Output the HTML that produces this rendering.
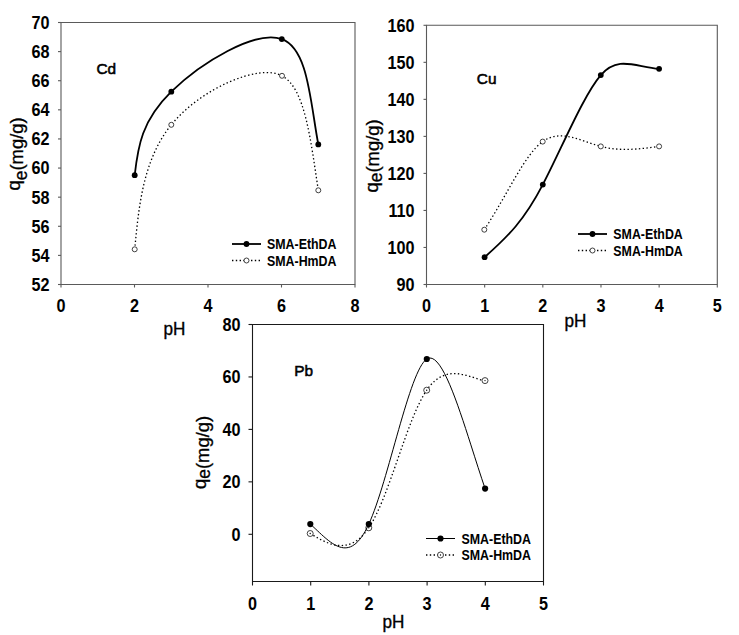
<!DOCTYPE html>
<html><head><meta charset="utf-8"><style>html,body{margin:0;padding:0;background:#fff;}svg{display:block}</style></head>
<body><svg width="739" height="635" viewBox="0 0 739 635">
<rect width="739" height="635" fill="#fff"/>
<g stroke="#5a5a5a" stroke-width="1.1" fill="none">
<path d="M61,22.5 H355 V284.5 H61 Z"/>
<path d="M58,22.50 H61"/>
<path d="M58,51.61 H61"/>
<path d="M58,80.72 H61"/>
<path d="M58,109.83 H61"/>
<path d="M58,138.94 H61"/>
<path d="M58,168.06 H61"/>
<path d="M58,197.17 H61"/>
<path d="M58,226.28 H61"/>
<path d="M58,255.39 H61"/>
<path d="M58,284.50 H61"/>
<path d="M61.00,284.5 V287.5"/>
<path d="M134.50,284.5 V287.5"/>
<path d="M208.00,284.5 V287.5"/>
<path d="M281.50,284.5 V287.5"/>
<path d="M355.00,284.5 V287.5"/>
</g>
<text transform="translate(49.5,28.90) scale(0.9,1)" font-family="Liberation Sans" font-weight="bold" font-size="18" text-anchor="end">70</text>
<text transform="translate(49.5,58.01) scale(0.9,1)" font-family="Liberation Sans" font-weight="bold" font-size="18" text-anchor="end">68</text>
<text transform="translate(49.5,87.12) scale(0.9,1)" font-family="Liberation Sans" font-weight="bold" font-size="18" text-anchor="end">66</text>
<text transform="translate(49.5,116.23) scale(0.9,1)" font-family="Liberation Sans" font-weight="bold" font-size="18" text-anchor="end">64</text>
<text transform="translate(49.5,145.34) scale(0.9,1)" font-family="Liberation Sans" font-weight="bold" font-size="18" text-anchor="end">62</text>
<text transform="translate(49.5,174.46) scale(0.9,1)" font-family="Liberation Sans" font-weight="bold" font-size="18" text-anchor="end">60</text>
<text transform="translate(49.5,203.57) scale(0.9,1)" font-family="Liberation Sans" font-weight="bold" font-size="18" text-anchor="end">58</text>
<text transform="translate(49.5,232.68) scale(0.9,1)" font-family="Liberation Sans" font-weight="bold" font-size="18" text-anchor="end">56</text>
<text transform="translate(49.5,261.79) scale(0.9,1)" font-family="Liberation Sans" font-weight="bold" font-size="18" text-anchor="end">54</text>
<text transform="translate(49.5,290.90) scale(0.9,1)" font-family="Liberation Sans" font-weight="bold" font-size="18" text-anchor="end">52</text>
<text transform="translate(61.00,312) scale(0.9,1)" font-family="Liberation Sans" font-weight="bold" font-size="18" text-anchor="middle">0</text>
<text transform="translate(134.50,312) scale(0.9,1)" font-family="Liberation Sans" font-weight="bold" font-size="18" text-anchor="middle">2</text>
<text transform="translate(208.00,312) scale(0.9,1)" font-family="Liberation Sans" font-weight="bold" font-size="18" text-anchor="middle">4</text>
<text transform="translate(281.50,312) scale(0.9,1)" font-family="Liberation Sans" font-weight="bold" font-size="18" text-anchor="middle">6</text>
<text transform="translate(355.00,312) scale(0.9,1)" font-family="Liberation Sans" font-weight="bold" font-size="18" text-anchor="middle">8</text>
<path d="M134.70,249.30 C138.67,210.07 141.99,160.99 171.30,124.80 C200.61,88.61 258.98,63.34 282.00,75.80 C305.02,88.26 310.33,138.12 318.30,190.30" fill="none" stroke="#000" stroke-width="1.3" stroke-dasharray="1.4,2.4"/>
<circle cx="134.70" cy="249.30" r="2.5" fill="#fff" stroke="#111" stroke-width="0.8"/>
<circle cx="171.30" cy="124.80" r="2.5" fill="#fff" stroke="#111" stroke-width="0.8"/>
<circle cx="282.00" cy="75.80" r="2.5" fill="#fff" stroke="#111" stroke-width="0.8"/>
<circle cx="318.30" cy="190.30" r="2.5" fill="#fff" stroke="#111" stroke-width="0.8"/>
<path d="M134.70,175.20 C137.92,146.26 141.74,120.66 171.30,91.70 C200.86,62.74 255.31,29.59 281.80,39.10 C308.29,48.61 310.17,101.45 318.30,144.40" fill="none" stroke="#000" stroke-width="1.8"/>
<circle cx="134.70" cy="175.20" r="2.9" fill="#000"/>
<circle cx="171.30" cy="91.70" r="2.9" fill="#000"/>
<circle cx="281.80" cy="39.10" r="2.9" fill="#000"/>
<circle cx="318.30" cy="144.40" r="2.9" fill="#000"/>
<path d="M232,244 H261" stroke="#000" stroke-width="1.8"/>
<circle cx="246.50" cy="244" r="2.9" fill="#000"/>
<path d="M232,260.5 H261" stroke="#000" stroke-width="1.3" stroke-dasharray="1.4,2.4"/>
<circle cx="246.50" cy="260.5" r="2.5" fill="#fff" stroke="#111" stroke-width="0.8"/>
<text x="267" y="249.3" font-family="Liberation Sans" font-weight="bold" font-size="14.2" textLength="69.5" lengthAdjust="spacingAndGlyphs">SMA-EthDA</text>
<text x="267" y="265.8" font-family="Liberation Sans" font-weight="bold" font-size="14.2" textLength="69.5" lengthAdjust="spacingAndGlyphs">SMA-HmDA</text>
<text x="96.5" y="74" font-family="Liberation Sans" font-size="15.4" stroke="#000" stroke-width="0.55">Cd</text>
<text transform="translate(163.5,335) scale(0.98,1)" font-family="Liberation Sans" font-size="17.5" stroke="#000" stroke-width="0.35">pH</text>
<text transform="translate(23,190.5) rotate(-90)" font-family="Liberation Sans" font-size="18.4" stroke="#000" stroke-width="0.3"><tspan dy="-3">q</tspan><tspan font-size="17.5" dy="6.5">e</tspan><tspan dy="-3.5">(mg/g)</tspan></text>
<g stroke="#5a5a5a" stroke-width="1.1" fill="none">
<path d="M426.5,25.3 H717.3 V284.5 H426.5 Z"/>
<path d="M423.5,25.30 H426.5"/>
<path d="M423.5,62.33 H426.5"/>
<path d="M423.5,99.36 H426.5"/>
<path d="M423.5,136.39 H426.5"/>
<path d="M423.5,173.41 H426.5"/>
<path d="M423.5,210.44 H426.5"/>
<path d="M423.5,247.47 H426.5"/>
<path d="M423.5,284.50 H426.5"/>
<path d="M426.50,284.5 V287.5"/>
<path d="M484.66,284.5 V287.5"/>
<path d="M542.82,284.5 V287.5"/>
<path d="M600.98,284.5 V287.5"/>
<path d="M659.14,284.5 V287.5"/>
<path d="M717.30,284.5 V287.5"/>
</g>
<text transform="translate(414.5,31.70) scale(0.9,1)" font-family="Liberation Sans" font-weight="bold" font-size="18" text-anchor="end">160</text>
<text transform="translate(414.5,68.73) scale(0.9,1)" font-family="Liberation Sans" font-weight="bold" font-size="18" text-anchor="end">150</text>
<text transform="translate(414.5,105.76) scale(0.9,1)" font-family="Liberation Sans" font-weight="bold" font-size="18" text-anchor="end">140</text>
<text transform="translate(414.5,142.79) scale(0.9,1)" font-family="Liberation Sans" font-weight="bold" font-size="18" text-anchor="end">130</text>
<text transform="translate(414.5,179.81) scale(0.9,1)" font-family="Liberation Sans" font-weight="bold" font-size="18" text-anchor="end">120</text>
<text transform="translate(414.5,216.84) scale(0.9,1)" font-family="Liberation Sans" font-weight="bold" font-size="18" text-anchor="end">110</text>
<text transform="translate(414.5,253.87) scale(0.9,1)" font-family="Liberation Sans" font-weight="bold" font-size="18" text-anchor="end">100</text>
<text transform="translate(414.5,290.90) scale(0.9,1)" font-family="Liberation Sans" font-weight="bold" font-size="18" text-anchor="end">90</text>
<text transform="translate(426.50,312) scale(0.9,1)" font-family="Liberation Sans" font-weight="bold" font-size="18" text-anchor="middle">0</text>
<text transform="translate(484.66,312) scale(0.9,1)" font-family="Liberation Sans" font-weight="bold" font-size="18" text-anchor="middle">1</text>
<text transform="translate(542.82,312) scale(0.9,1)" font-family="Liberation Sans" font-weight="bold" font-size="18" text-anchor="middle">2</text>
<text transform="translate(600.98,312) scale(0.9,1)" font-family="Liberation Sans" font-weight="bold" font-size="18" text-anchor="middle">3</text>
<text transform="translate(659.14,312) scale(0.9,1)" font-family="Liberation Sans" font-weight="bold" font-size="18" text-anchor="middle">4</text>
<text transform="translate(717.30,312) scale(0.9,1)" font-family="Liberation Sans" font-weight="bold" font-size="18" text-anchor="middle">5</text>
<path d="M484.30,229.70 C507.75,194.00 524.47,154.71 542.70,141.60 C560.93,128.49 581.24,141.24 600.80,146.40 C620.36,151.56 639.57,149.06 659.10,146.40" fill="none" stroke="#000" stroke-width="1.3" stroke-dasharray="1.4,2.4"/>
<circle cx="484.30" cy="229.70" r="2.5" fill="#fff" stroke="#111" stroke-width="0.8"/>
<circle cx="542.70" cy="141.60" r="2.5" fill="#fff" stroke="#111" stroke-width="0.8"/>
<circle cx="600.80" cy="146.40" r="2.5" fill="#fff" stroke="#111" stroke-width="0.8"/>
<circle cx="659.10" cy="146.40" r="2.5" fill="#fff" stroke="#111" stroke-width="0.8"/>
<path d="M484.60,257.20 C508.30,236.21 524.12,220.40 542.80,184.60 C561.48,148.80 583.55,95.08 600.80,75.10 C618.05,55.12 635.59,67.02 659.10,68.85" fill="none" stroke="#000" stroke-width="1.8"/>
<circle cx="484.60" cy="257.20" r="2.9" fill="#000"/>
<circle cx="542.80" cy="184.60" r="2.9" fill="#000"/>
<circle cx="600.80" cy="75.10" r="2.9" fill="#000"/>
<circle cx="659.10" cy="68.85" r="2.9" fill="#000"/>
<path d="M578,234 H607" stroke="#000" stroke-width="1.8"/>
<circle cx="592.50" cy="234" r="2.9" fill="#000"/>
<path d="M578,250.5 H607" stroke="#000" stroke-width="1.3" stroke-dasharray="1.4,2.4"/>
<circle cx="592.50" cy="250.5" r="2.5" fill="#fff" stroke="#111" stroke-width="0.8"/>
<text x="613.3" y="239.3" font-family="Liberation Sans" font-weight="bold" font-size="14.2" textLength="69.5" lengthAdjust="spacingAndGlyphs">SMA-EthDA</text>
<text x="613.3" y="255.8" font-family="Liberation Sans" font-weight="bold" font-size="14.2" textLength="69.5" lengthAdjust="spacingAndGlyphs">SMA-HmDA</text>
<text x="476.8" y="83.5" font-family="Liberation Sans" font-size="15.4" stroke="#000" stroke-width="0.55">Cu</text>
<text transform="translate(564.5,327) scale(0.98,1)" font-family="Liberation Sans" font-size="17.5" stroke="#000" stroke-width="0.35">pH</text>
<text transform="translate(378.5,192.5) rotate(-90)" font-family="Liberation Sans" font-size="18.4" stroke="#000" stroke-width="0.3"><tspan dy="-0.3">q</tspan><tspan font-size="17.5" dy="3.8">e</tspan><tspan dy="-3.5">(mg/g)</tspan></text>
<g stroke="#1a1a1a" stroke-width="1.1" fill="none">
<path d="M252.5,324.5 H543.5 V581.5 H252.5 Z"/>
<path d="M248.5,324.50 H252.5"/>
<path d="M248.5,376.95 H252.5"/>
<path d="M248.5,429.40 H252.5"/>
<path d="M248.5,481.85 H252.5"/>
<path d="M248.5,534.30 H252.5"/>
<path d="M252.50,581.5 V585.5"/>
<path d="M310.70,581.5 V585.5"/>
<path d="M368.90,581.5 V585.5"/>
<path d="M427.10,581.5 V585.5"/>
<path d="M485.30,581.5 V585.5"/>
<path d="M543.50,581.5 V585.5"/>
</g>
<text transform="translate(240.5,330.90) scale(0.9,1)" font-family="Liberation Sans" font-weight="bold" font-size="18" text-anchor="end">80</text>
<text transform="translate(240.5,383.35) scale(0.9,1)" font-family="Liberation Sans" font-weight="bold" font-size="18" text-anchor="end">60</text>
<text transform="translate(240.5,435.80) scale(0.9,1)" font-family="Liberation Sans" font-weight="bold" font-size="18" text-anchor="end">40</text>
<text transform="translate(240.5,488.25) scale(0.9,1)" font-family="Liberation Sans" font-weight="bold" font-size="18" text-anchor="end">20</text>
<text transform="translate(240.5,540.70) scale(0.9,1)" font-family="Liberation Sans" font-weight="bold" font-size="18" text-anchor="end">0</text>
<text transform="translate(252.50,610) scale(0.9,1)" font-family="Liberation Sans" font-weight="bold" font-size="18" text-anchor="middle">0</text>
<text transform="translate(310.70,610) scale(0.9,1)" font-family="Liberation Sans" font-weight="bold" font-size="18" text-anchor="middle">1</text>
<text transform="translate(368.90,610) scale(0.9,1)" font-family="Liberation Sans" font-weight="bold" font-size="18" text-anchor="middle">2</text>
<text transform="translate(427.10,610) scale(0.9,1)" font-family="Liberation Sans" font-weight="bold" font-size="18" text-anchor="middle">3</text>
<text transform="translate(485.30,610) scale(0.9,1)" font-family="Liberation Sans" font-weight="bold" font-size="18" text-anchor="middle">4</text>
<text transform="translate(543.50,610) scale(0.9,1)" font-family="Liberation Sans" font-weight="bold" font-size="18" text-anchor="middle">5</text>
<path d="M310.20,533.50 C324.03,541.74 348.21,558.53 368.80,527.80 C389.39,497.07 406.62,419.60 426.70,390.20 C446.78,360.80 471.11,379.01 485.00,380.60" fill="none" stroke="#000" stroke-width="1.3" stroke-dasharray="1.4,2.4"/>
<circle cx="310.20" cy="533.50" r="3.0" fill="#fff" stroke="#111" stroke-width="0.8"/>
<circle cx="310.20" cy="533.50" r="0.7" fill="#000"/>
<circle cx="368.80" cy="527.80" r="3.0" fill="#fff" stroke="#111" stroke-width="0.8"/>
<circle cx="368.80" cy="527.80" r="0.7" fill="#000"/>
<circle cx="426.70" cy="390.20" r="3.0" fill="#fff" stroke="#111" stroke-width="0.8"/>
<circle cx="426.70" cy="390.20" r="0.7" fill="#000"/>
<circle cx="485.00" cy="380.60" r="3.0" fill="#fff" stroke="#111" stroke-width="0.8"/>
<circle cx="485.00" cy="380.60" r="0.7" fill="#000"/>
<path d="M310.30,524.10 C330.28,542.06 349.09,567.13 368.80,524.10 C388.51,481.07 409.37,370.27 426.80,359.00 C444.23,347.73 466.15,433.46 485.10,488.60" fill="none" stroke="#000" stroke-width="1.0"/>
<circle cx="310.30" cy="524.10" r="3.1" fill="#000"/>
<circle cx="368.80" cy="524.10" r="3.1" fill="#000"/>
<circle cx="426.80" cy="359.00" r="3.1" fill="#000"/>
<circle cx="485.10" cy="488.60" r="3.1" fill="#000"/>
<path d="M426,538.5 H455" stroke="#000" stroke-width="1.0"/>
<circle cx="440.50" cy="538.5" r="3.1" fill="#000"/>
<path d="M426,555 H455" stroke="#000" stroke-width="1.3" stroke-dasharray="1.4,2.4"/>
<circle cx="440.50" cy="555" r="3.0" fill="#fff" stroke="#111" stroke-width="0.8"/>
<circle cx="440.50" cy="555" r="0.7" fill="#000"/>
<text x="461.5" y="543.8" font-family="Liberation Sans" font-weight="bold" font-size="14.2" textLength="69.5" lengthAdjust="spacingAndGlyphs">SMA-EthDA</text>
<text x="461.5" y="560.3" font-family="Liberation Sans" font-weight="bold" font-size="14.2" textLength="69.5" lengthAdjust="spacingAndGlyphs">SMA-HmDA</text>
<text x="294.2" y="376" font-family="Liberation Sans" font-size="15.4" stroke="#000" stroke-width="0.55">Pb</text>
<text transform="translate(382.5,628) scale(0.98,1)" font-family="Liberation Sans" font-size="17.5" stroke="#000" stroke-width="0.35">pH</text>
<text transform="translate(209.3,489) rotate(-90)" font-family="Liberation Sans" font-size="18.4" stroke="#000" stroke-width="0.3"><tspan dy="-3">q</tspan><tspan font-size="17.5" dy="4">e</tspan><tspan dy="-1">(mg/g)</tspan></text>
</svg></body></html>
